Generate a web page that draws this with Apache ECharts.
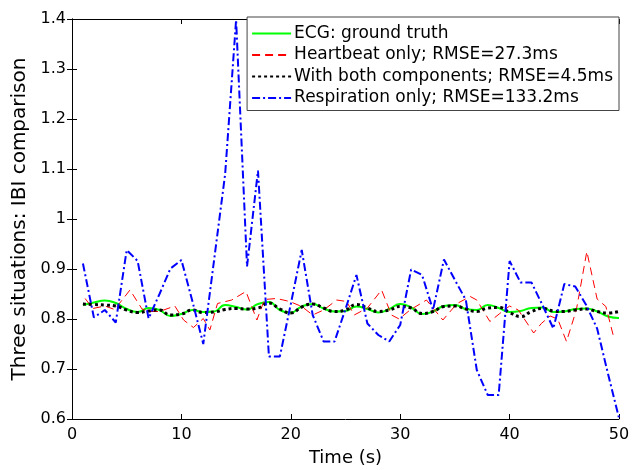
<!DOCTYPE html>
<html>
<head>
<meta charset="utf-8">
<script src="https://cdn.jsdelivr.net/npm/echarts@6/dist/echarts.min.js"></script>
<style>html,body{margin:0;padding:0;background:#fff}#c{width:641px;height:470px}</style>
</head>
<body>
<div id="c"></div>
<script>
// Time (s) for ECG / combined / respiration series
const tSec = [1,2,3,4,5,6,7,8,9,10,11,12,13,14,15,16,17,18,19,20,21,22,23,24,25,26,27,28,29,30,31,32,33,34,35,36,37,38,39,40,41,42,43,44,45,46,47,48,49,50];
const ecgTruth = [0.828,0.833,0.837,0.832,0.820,0.814,0.822,0.818,0.806,0.810,0.818,0.814,0.815,0.828,0.824,0.819,0.830,0.834,0.818,0.813,0.825,0.830,0.821,0.815,0.816,0.825,0.820,0.813,0.820,0.830,0.823,0.810,0.815,0.826,0.828,0.820,0.818,0.828,0.822,0.814,0.816,0.822,0.823,0.814,0.815,0.820,0.821,0.815,0.805,0.802];
const bothComp = [0.830,0.829,0.828,0.826,0.818,0.813,0.816,0.818,0.808,0.810,0.818,0.813,0.814,0.819,0.821,0.820,0.822,0.832,0.820,0.812,0.824,0.830,0.822,0.815,0.818,0.829,0.822,0.815,0.818,0.825,0.822,0.811,0.815,0.825,0.826,0.820,0.815,0.822,0.823,0.813,0.805,0.815,0.821,0.816,0.815,0.818,0.820,0.815,0.812,0.815];
const respOnly = [0.911,0.803,0.818,0.793,0.938,0.916,0.801,0.850,0.901,0.918,0.836,0.750,0.920,1.090,1.398,0.905,1.097,0.725,0.725,0.830,0.938,0.808,0.755,0.755,0.820,0.888,0.791,0.768,0.755,0.788,0.899,0.888,0.818,0.919,0.878,0.838,0.698,0.648,0.648,0.916,0.873,0.873,0.828,0.781,0.870,0.865,0.828,0.781,0.690,0.602];
// Heartbeat-only series sampled at beat times
const hbTime = [1.2,1.9,3.0,3.9,5.3,6.4,7.0,8.0,9.4,10.2,11.1,12.0,12.6,13.3,14.6,15.9,16.9,17.6,18.7,19.9,21.0,22.0,23.0,24.2,25.1,25.8,27.0,28.3,29.2,29.9,30.9,32.4,33.9,35.2,36.4,37.0,38.2,39.1,40.0,40.8,42.2,42.9,43.7,44.4,45.2,46.1,47.06,48.0,48.8,49.5];
const hbOnly = [0.841,0.821,0.826,0.819,0.858,0.820,0.815,0.815,0.826,0.798,0.783,0.801,0.778,0.831,0.838,0.855,0.798,0.839,0.841,0.835,0.825,0.808,0.818,0.838,0.835,0.808,0.822,0.858,0.808,0.800,0.818,0.838,0.798,0.831,0.845,0.838,0.795,0.811,0.826,0.818,0.772,0.791,0.806,0.800,0.755,0.818,0.935,0.840,0.825,0.765];
const xTicks = [0,10,20,30,40,50];
const yTicks = [0.6,0.7,0.8,0.9,1,1.1,1.2,1.3,1.4];
const names = ['ECG: ground truth','Heartbeat only; RMSE=27.3ms','With both components; RMSE=4.5ms','Respiration only; RMSE=133.2ms'];

const pair = (xs, ys) => xs.map((x, i) => [x, ys[i]]);
const FONT = '"DejaVu Sans", sans-serif';
const chart = echarts.init(document.getElementById('c'), null, {renderer: 'canvas'});
const axisCommon = {
  axisLine: {show: true, lineStyle: {color: '#000', width: 1}},
  axisTick: {show: true, inside: true, length: 5, lineStyle: {color: '#000'}},
  splitLine: {show: false},
};
chart.setOption({
  animation: false,
  backgroundColor: '#fff',
  grid: {left: 72, right: 22, top: 19, bottom: 51, show: false, outerBoundsMode: 'none', containLabel: false},
  legend: {
    orient: 'vertical', right: 22, top: 17,
    data: names,
    itemWidth: 39, itemHeight: 12, itemGap: 4.5,
    padding: [8, 6, 4, 4],
    borderColor: '#444', borderWidth: 1, backgroundColor: '#fff',
    itemStyle: {opacity: 0},
    textStyle: {fontFamily: FONT, fontSize: 17, color: '#000', padding: [0,0,0,-2]},
  },
  xAxis: [
    Object.assign({type: 'value', min: 0, max: 50, interval: 10, position: 'bottom',
      name: 'Time (s)', nameLocation: 'middle', nameGap: 30,
      nameTextStyle: {fontFamily: FONT, fontSize: 18, color: '#000'},
      axisLabel: {fontFamily: FONT, fontSize: 16, color: '#000', margin: 8,
        formatter: v => xTicks.includes(v) ? String(v) : ''}}, axisCommon),
    Object.assign({type: 'value', min: 0, max: 50, interval: 10, position: 'top',
      axisLabel: {show: false}}, axisCommon),
  ],
  yAxis: [
    Object.assign({type: 'value', min: 0.6, max: 1.4, interval: 0.1, position: 'left',
      name: 'Three situations: IBI comparison', nameLocation: 'middle', nameGap: 38,
      nameTextStyle: {fontFamily: FONT, fontSize: 20, color: '#000'},
      axisLabel: {fontFamily: FONT, fontSize: 16, color: '#000', margin: 6,
        formatter: v => { const r = Math.round(v * 10) / 10; return yTicks.includes(r) ? String(r) : ''; }}}, axisCommon),
    Object.assign({type: 'value', min: 0.6, max: 1.4, interval: 0.1, position: 'right',
      axisLabel: {show: false}}, axisCommon),
  ],
  series: [
    {name: names[0], type: 'line', data: pair(tSec, ecgTruth), smooth: 0.5, symbol: 'none',
     lineStyle: {color: '#00ff00', width: 2}, itemStyle: {color: '#00ff00'}, z: 2},
    {name: names[1], type: 'line', data: pair(hbTime, hbOnly), symbol: 'none',
     lineStyle: {color: '#ff0000', width: 1, type: [8, 5]}, itemStyle: {color: '#ff0000'}, z: 3},
    {name: names[2], type: 'line', data: pair(tSec, bothComp), smooth: 0.5, symbol: 'none',
     lineStyle: {color: '#000', width: 3, type: [3, 3]}, itemStyle: {color: '#000'}, z: 4},
    {name: names[3], type: 'line', data: pair(tSec, respOnly), symbol: 'none',
     lineStyle: {color: '#0000ff', width: 2, type: [8, 3, 2, 3]}, itemStyle: {color: '#0000ff'}, z: 5},
  ],
});
</script>
</body>
</html>
